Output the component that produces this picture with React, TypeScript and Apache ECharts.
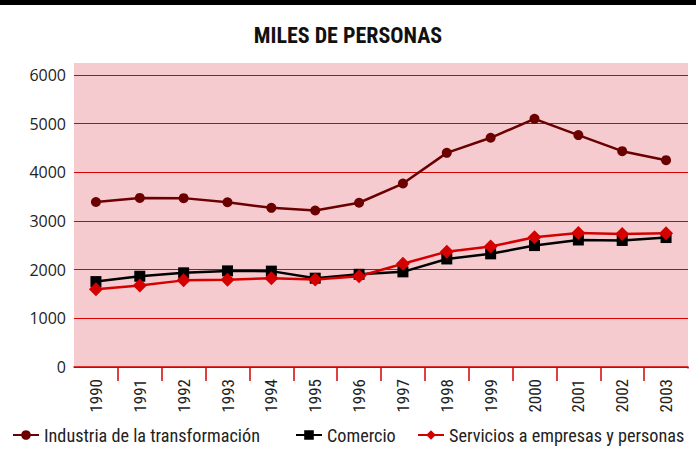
import React, { useEffect, useRef } from "react";
import * as echarts from "echarts";

const years = ["1990","1991","1992","1993","1994","1995","1996","1997","1998","1999","2000","2001","2002","2003"];
const industria = [3390, 3475, 3470, 3385, 3270, 3215, 3375, 3770, 4400, 4710, 5100, 4765, 4435, 4250];
const comercio = [1755, 1865, 1935, 1975, 1970, 1825, 1905, 1955, 2220, 2325, 2495, 2610, 2600, 2660];
const servicios = [1600, 1675, 1780, 1795, 1825, 1800, 1865, 2120, 2370, 2475, 2665, 2755, 2735, 2750];
const seriesNames = ["Industria de la transformación", "Comercio", "Servicios a empresas y personas"];
const yTicks = { min: 0, max: 6000, interval: 1000 };

const NARROW = "'Liberation Sans Narrow', 'Roboto Condensed', 'Liberation Sans', sans-serif";
const legendLefts = [12, 295, 417];

export default function App() {
  const ref = useRef<HTMLDivElement>(null);
  useEffect(() => {
    if (!ref.current) return;
    const chart = echarts.init(ref.current, null, { renderer: "svg" });
    chart.setOption({
      animation: false,
      backgroundColor: "#ffffff",
      title: {
        text: "MILES DE PERSONAS",
        left: "center",
        top: 19,
        textStyle: { fontFamily: NARROW, fontWeight: "bold", fontSize: 22, color: "#111" },
      },
      graphic: [
        { type: "rect", left: 0, top: 0, shape: { width: 696, height: 5 }, style: { fill: "#000" } },
        { type: "rect", left: 74, top: 63, shape: { width: 614, height: 12 }, style: { fill: "#f5cbcf" }, z: -1 },
        { type: "rect", left: 687, top: 368.5, shape: { width: 9, height: 16 }, style: { fill: "#ffffff" }, z: 100 },
      ],
      grid: {
        left: 74, right: 8, top: 75, bottom: 90,
        show: true, backgroundColor: "#f5cbcf", borderWidth: 0,
      },
      legend: seriesNames.map((name, i) => ({
        left: legendLefts[i], top: 426, padding: 0,
        itemWidth: 26, itemHeight: 12,
        textStyle: { fontFamily: NARROW, fontSize: 18.2, color: "#222" },
        data: [name],
      })),
      xAxis: {
        type: "category",
        data: years,
        boundaryGap: true,
        axisLine: { lineStyle: { color: "#d40000", width: 1.5 } },
        axisTick: {
          show: true, length: 14, lineStyle: { color: "#d40000", width: 1.5 },
          interval: (index: number) => index !== 0,
        },
        axisLabel: { rotate: 90, margin: 12, fontFamily: NARROW, fontSize: 17, color: "#222" },
      },
      yAxis: {
        type: "value",
        ...yTicks,
        axisLine: { show: false },
        axisTick: { show: false },
        axisLabel: {
          fontFamily: "'Open Sans', sans-serif", fontSize: 16, color: "#222", margin: 8,
          formatter: (v: number) => String(v),
        },
        splitLine: { lineStyle: { color: "#d80000", width: 1.2 } },
      },
      series: [
        {
          name: seriesNames[0], type: "line", data: industria,
          symbol: "circle", symbolSize: 10,
          lineStyle: { color: "#6b0000", width: 2.5 }, itemStyle: { color: "#6b0000" },
        },
        {
          name: seriesNames[1], type: "line", data: comercio,
          symbol: "rect", symbolSize: 11,
          lineStyle: { color: "#000000", width: 2.5 }, itemStyle: { color: "#000000" },
        },
        {
          name: seriesNames[2], type: "line", data: servicios,
          symbol: "diamond", symbolSize: 14,
          lineStyle: { color: "#d40000", width: 2.5 }, itemStyle: { color: "#d40000" },
        },
      ],
    });
    return () => chart.dispose();
  }, []);
  return <div ref={ref} style={{ width: 696, height: 457, position: "absolute", left: 0, top: 0 }} />;
}
